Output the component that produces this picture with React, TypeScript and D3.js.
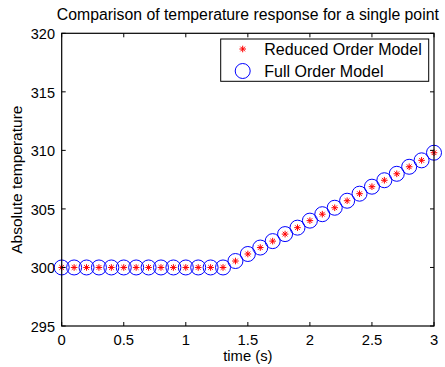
import React from "react";
import * as d3 from "d3";

const times = [0, 0.1, 0.2, 0.3, 0.4, 0.5, 0.6, 0.7, 0.8, 0.9, 1.0, 1.1, 1.2, 1.3, 1.4, 1.5, 1.6, 1.7, 1.8, 1.9, 2.0, 2.1, 2.2, 2.3, 2.4, 2.5, 2.6, 2.7, 2.8, 2.9, 3.0];
const reducedOrder = [300, 300, 300, 300, 300, 300, 300, 300, 300, 300, 300, 300, 300, 300, 300.55, 301.15, 301.7, 302.25, 302.85, 303.4, 304.0, 304.55, 305.1, 305.7, 306.3, 306.9, 307.45, 308.0, 308.6, 309.15, 309.8];
const fullOrder = [300, 300, 300, 300, 300, 300, 300, 300, 300, 300, 300, 300, 300, 300, 300.55, 301.15, 301.7, 302.25, 302.85, 303.4, 304.0, 304.55, 305.1, 305.7, 306.3, 306.9, 307.45, 308.0, 308.6, 309.15, 309.8];
const xTicks = [0, 0.5, 1, 1.5, 2, 2.5, 3];
const yTicks = [295, 300, 305, 310, 315, 320];
const legendLabels = ["Reduced Order Model", "Full Order Model"];
const title = "Comparison of temperature response for a single point";
const xLabel = "time (s)";
const yLabel = "Absolute temperature";

const W = 445, H = 367;
const L = 61.7, R = 434, T = 33.3, B = 326;
const FONT = "'Liberation Sans', Arial, sans-serif";

function Star({ x, y, s }: { x: number; y: number; s: number }) {
  const d = s * 0.7071;
  return (
    <g stroke="#ff0000" strokeWidth={1}>
      <line x1={x - s} y1={y} x2={x + s} y2={y} />
      <line x1={x} y1={y - s} x2={x} y2={y + s} />
      <line x1={x - d} y1={y - d} x2={x + d} y2={y + d} />
      <line x1={x - d} y1={y + d} x2={x + d} y2={y - d} />
    </g>
  );
}

export default function App() {
  const x = d3.scaleLinear().domain([0, 3]).range([L, R]);
  const y = d3.scaleLinear().domain([295, 320]).range([B, T]);
  const tk = 4;
  return (
    <svg width={W} height={H} style={{ position: "absolute", left: 0, top: 0, background: "#fff" }} fontFamily={FONT}>
      <rect x={0} y={0} width={W} height={H} fill="#fff" />
      <text x={(L + R) / 2} y={20} textAnchor="middle" fontSize={15.8} fill="#000">{title}</text>
      {/* data */}
      {times.map((t, i) => (
        <circle key={"c" + i} cx={x(t)} cy={y(fullOrder[i])} r={7.5} fill="none" stroke="#0000ff" strokeWidth={1} />
      ))}
      {times.map((t, i) => (
        <Star key={"s" + i} x={x(t)} y={y(reducedOrder[i])} s={3.3} />
      ))}
      {/* axes box */}
      <rect x={L} y={T} width={R - L} height={B - T} fill="none" stroke="#000" strokeWidth={1.2} />
      {xTicks.map((v) => (
        <g key={"x" + v}>
          <line x1={x(v)} x2={x(v)} y1={B} y2={B - tk} stroke="#000" />
          <line x1={x(v)} x2={x(v)} y1={T} y2={T + tk} stroke="#000" />
          <text x={x(v)} y={345} textAnchor="middle" fontSize={14.8}>{String(v)}</text>
        </g>
      ))}
      {yTicks.map((v) => (
        <g key={"y" + v}>
          <line x1={L} x2={L + tk} y1={y(v)} y2={y(v)} stroke="#000" />
          <line x1={R} x2={R - tk} y1={y(v)} y2={y(v)} stroke="#000" />
          <text x={55} y={y(v) + 6} textAnchor="end" fontSize={14.5}>{String(v)}</text>
        </g>
      ))}
      <text x={(L + R) / 2} y={361} textAnchor="middle" fontSize={14.8}>{xLabel}</text>
      <text transform={`translate(22,${(T + B) / 2}) rotate(-90)`} textAnchor="middle" fontSize={15.5}>{yLabel}</text>
      {/* legend */}
      <rect x={220.7} y={39} width={208} height={42.3} fill="#fff" stroke="#000" strokeWidth={1} />
      <Star x={242.7} y={49} s={3.3} />
      <circle cx={242.7} cy={71} r={7.5} fill="none" stroke="#0000ff" strokeWidth={1} />
      <text x={264.3} y={54.5} fontSize={16}>{legendLabels[0]}</text>
      <text x={264.3} y={76.5} fontSize={16}>{legendLabels[1]}</text>
    </svg>
  );
}
